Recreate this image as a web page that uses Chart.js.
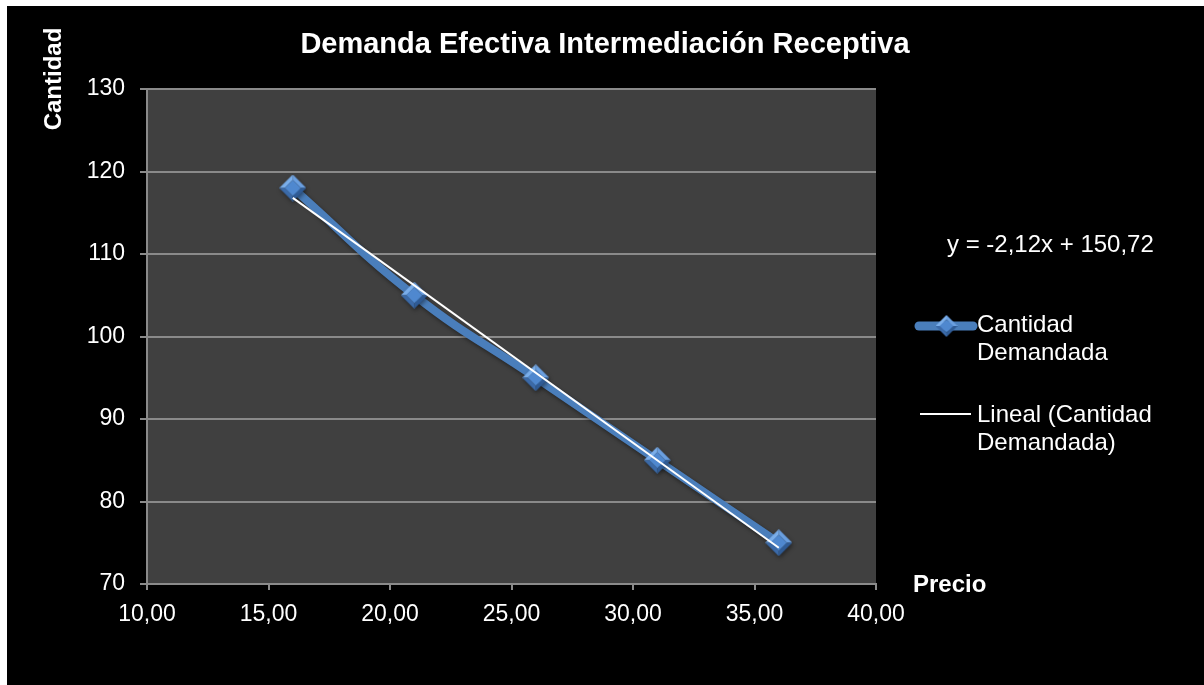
<!DOCTYPE html>
<html>
<head>
<meta charset="utf-8">
<script src="https://cdn.jsdelivr.net/npm/chart.js@4/dist/chart.umd.min.js"></script>
<style>
  html, body { margin: 0; padding: 0; background: #ffffff; overflow: hidden; }
  #wrap { position: absolute; left: 7px; top: 6px; width: 1197px; height: 679px; }
</style>
</head>
<body>
<div id="wrap"><canvas id="chart" width="1197" height="679"></canvas></div>
<script>
// Price (x) and quantity demanded (y)
const precios = [16, 21, 26, 31, 36];
const cantidades = [118, 105, 95, 85, 75];

// Linear trend coefficients, as printed in the equation label
const pendiente = -2.12;
const intercepto = 150.72;

// Axis ticks
const xTicks = [10, 15, 20, 25, 30, 35, 40];
const xTickLabels = ['10,00', '15,00', '20,00', '25,00', '30,00', '35,00', '40,00'];
const yTicks = [70, 80, 90, 100, 110, 120, 130];
const yTickLabels = ['70', '80', '90', '100', '110', '120', '130'];

// Texts
const titulo = 'Demanda Efectiva Intermediación Receptiva';
const tituloY = 'Cantidad';
const tituloX = 'Precio';
const ecuacion = 'y = -2,12x + 150,72';
const leyendaSerie = ['Cantidad', 'Demandada'];
const leyendaTendencia = ['Lineal (Cantidad', 'Demandada)'];

const FONT = '"Liberation Sans", Arial, sans-serif';
const BLUE = '#4a7ebb';

// Bevelled diamond marker
function makeDiamond(size) {
  const c = document.createElement('canvas');
  c.width = size; c.height = size;
  const g = c.getContext('2d');
  const h = size / 2, k = size * 0.2;
  const T = [h, 0], R = [size, h], B = [h, size], L = [0, h];
  const iT = [h, k], iR = [size - k, h], iB = [h, size - k], iL = [k, h];
  function poly(pts, col) {
    g.beginPath();
    g.moveTo(pts[0][0], pts[0][1]);
    for (let i = 1; i < pts.length; i++) g.lineTo(pts[i][0], pts[i][1]);
    g.closePath(); g.fillStyle = col; g.fill();
  }
  poly([T, R, iR, iT], '#6a9fe0');
  poly([L, T, iT, iL], '#7aaeea');
  poly([R, B, iB, iR], '#2f5b95');
  poly([B, L, iL, iB], '#3b6aa8');
  poly([iT, iR, iB, iL], '#4f88cf');
  return c;
}
const diamond = makeDiamond(27);
const diamondSmall = makeDiamond(22);

const trendX = [precios[0], precios[precios.length - 1]];

const serie = precios.map((x, i) => ({ x: x, y: cantidades[i] }));
const tendencia = trendX.map(x => ({ x: x, y: pendiente * x + intercepto }));

const decor = {
  id: 'decor',
  beforeDraw(chart) {
    const { ctx, chartArea: a } = chart;
    ctx.save();
    ctx.fillStyle = '#000000';
    ctx.fillRect(0, 0, chart.width, chart.height);
    ctx.fillStyle = '#404040';
    ctx.fillRect(a.left, a.top, a.right - a.left, a.bottom - a.top);
    ctx.restore();
  },
  beforeDatasetDraw(chart, args) {
    if (args.index === 0) {
      chart.ctx.save();
      chart.ctx.shadowColor = 'rgba(0,0,0,0.45)';
      chart.ctx.shadowBlur = 4;
      chart.ctx.shadowOffsetX = 1;
      chart.ctx.shadowOffsetY = 2;
    }
  },
  afterDatasetDraw(chart, args) {
    if (args.index === 0) chart.ctx.restore();
  },
  afterDraw(chart) {
    const ctx = chart.ctx;
    ctx.save();
    ctx.fillStyle = '#ffffff';
    ctx.textBaseline = 'alphabetic';

    // Title
    ctx.font = 'bold 29px ' + FONT;
    ctx.textAlign = 'center';
    ctx.fillText(titulo, 598, 47);

    // Y axis title, top-left
    ctx.font = 'bold 24px ' + FONT;
    ctx.save();
    ctx.translate(54, 73);
    ctx.rotate(-Math.PI / 2);
    ctx.textAlign = 'center';
    ctx.fillText(tituloY, 0, 0);
    ctx.restore();

    // X axis title
    ctx.textAlign = 'left';
    ctx.fillText(tituloX, 906, 586);

    // Equation
    ctx.font = '24px ' + FONT;
    ctx.fillText(ecuacion, 940, 246);

    // Legend: data series
    ctx.save();
    ctx.strokeStyle = BLUE;
    ctx.lineWidth = 9;
    ctx.lineCap = 'round';
    ctx.beginPath();
    ctx.moveTo(912, 320);
    ctx.lineTo(966, 320);
    ctx.stroke();
    ctx.drawImage(diamondSmall, 939.5 - 11, 320 - 11);
    ctx.restore();
    ctx.fillText(leyendaSerie[0], 970, 326);
    ctx.fillText(leyendaSerie[1], 970, 354);

    // Legend: trend line
    ctx.strokeStyle = '#ffffff';
    ctx.lineWidth = 2;
    ctx.beginPath();
    ctx.moveTo(913, 408);
    ctx.lineTo(964, 408);
    ctx.stroke();
    ctx.fillText(leyendaTendencia[0], 970, 416);
    ctx.fillText(leyendaTendencia[1], 970, 444);
    ctx.restore();
  }
};

new Chart(document.getElementById('chart'), {
  type: 'scatter',
  data: {
    datasets: [
      {
        label: 'Cantidad Demandada',
        data: serie,
        showLine: true,
        borderColor: BLUE,
        borderWidth: 8,
        tension: 0.45,
        pointStyle: diamond,
        order: 2
      },
      {
        label: 'Lineal (Cantidad Demandada)',
        data: tendencia,
        showLine: true,
        borderColor: '#ffffff',
        borderWidth: 2,
        pointRadius: 0,
        tension: 0,
        order: 1
      }
    ]
  },
  options: {
    responsive: false,
    animation: false,
    events: [],
    layout: { padding: { left: 0, top: 83, right: 328, bottom: 0 } },
    plugins: { legend: { display: false }, title: { display: false }, tooltip: { enabled: false } },
    scales: {
      x: {
        type: 'linear',
        min: 10, max: 40,
        afterFit(s) { s.height = 101; },
        afterBuildTicks(s) { s.ticks = xTicks.map(v => ({ value: v })); },
        ticks: {
          color: '#ffffff',
          font: { family: FONT, size: 23 },
          padding: 11,
          maxRotation: 0,
          callback(v) { const i = xTicks.indexOf(v); return i >= 0 ? xTickLabels[i] : ''; }
        },
        grid: { drawOnChartArea: false, drawTicks: true, tickLength: 6, color: '#8a8a8a', lineWidth: 2 },
        border: { color: '#8a8a8a', width: 2 }
      },
      y: {
        type: 'linear',
        min: 70, max: 130,
        afterFit(s) { s.width = 140; },
        afterBuildTicks(s) { s.ticks = yTicks.map(v => ({ value: v })); },
        ticks: {
          color: '#ffffff',
          font: { family: FONT, size: 23 },
          padding: 15,
          callback(v) { const i = yTicks.indexOf(v); return i >= 0 ? yTickLabels[i] : ''; }
        },
        grid: { drawOnChartArea: true, drawTicks: true, tickLength: 7, color: '#8a8a8a', lineWidth: 2 },
        border: { color: '#8a8a8a', width: 2 }
      }
    }
  },
  plugins: [decor]
});
</script>
</body>
</html>
